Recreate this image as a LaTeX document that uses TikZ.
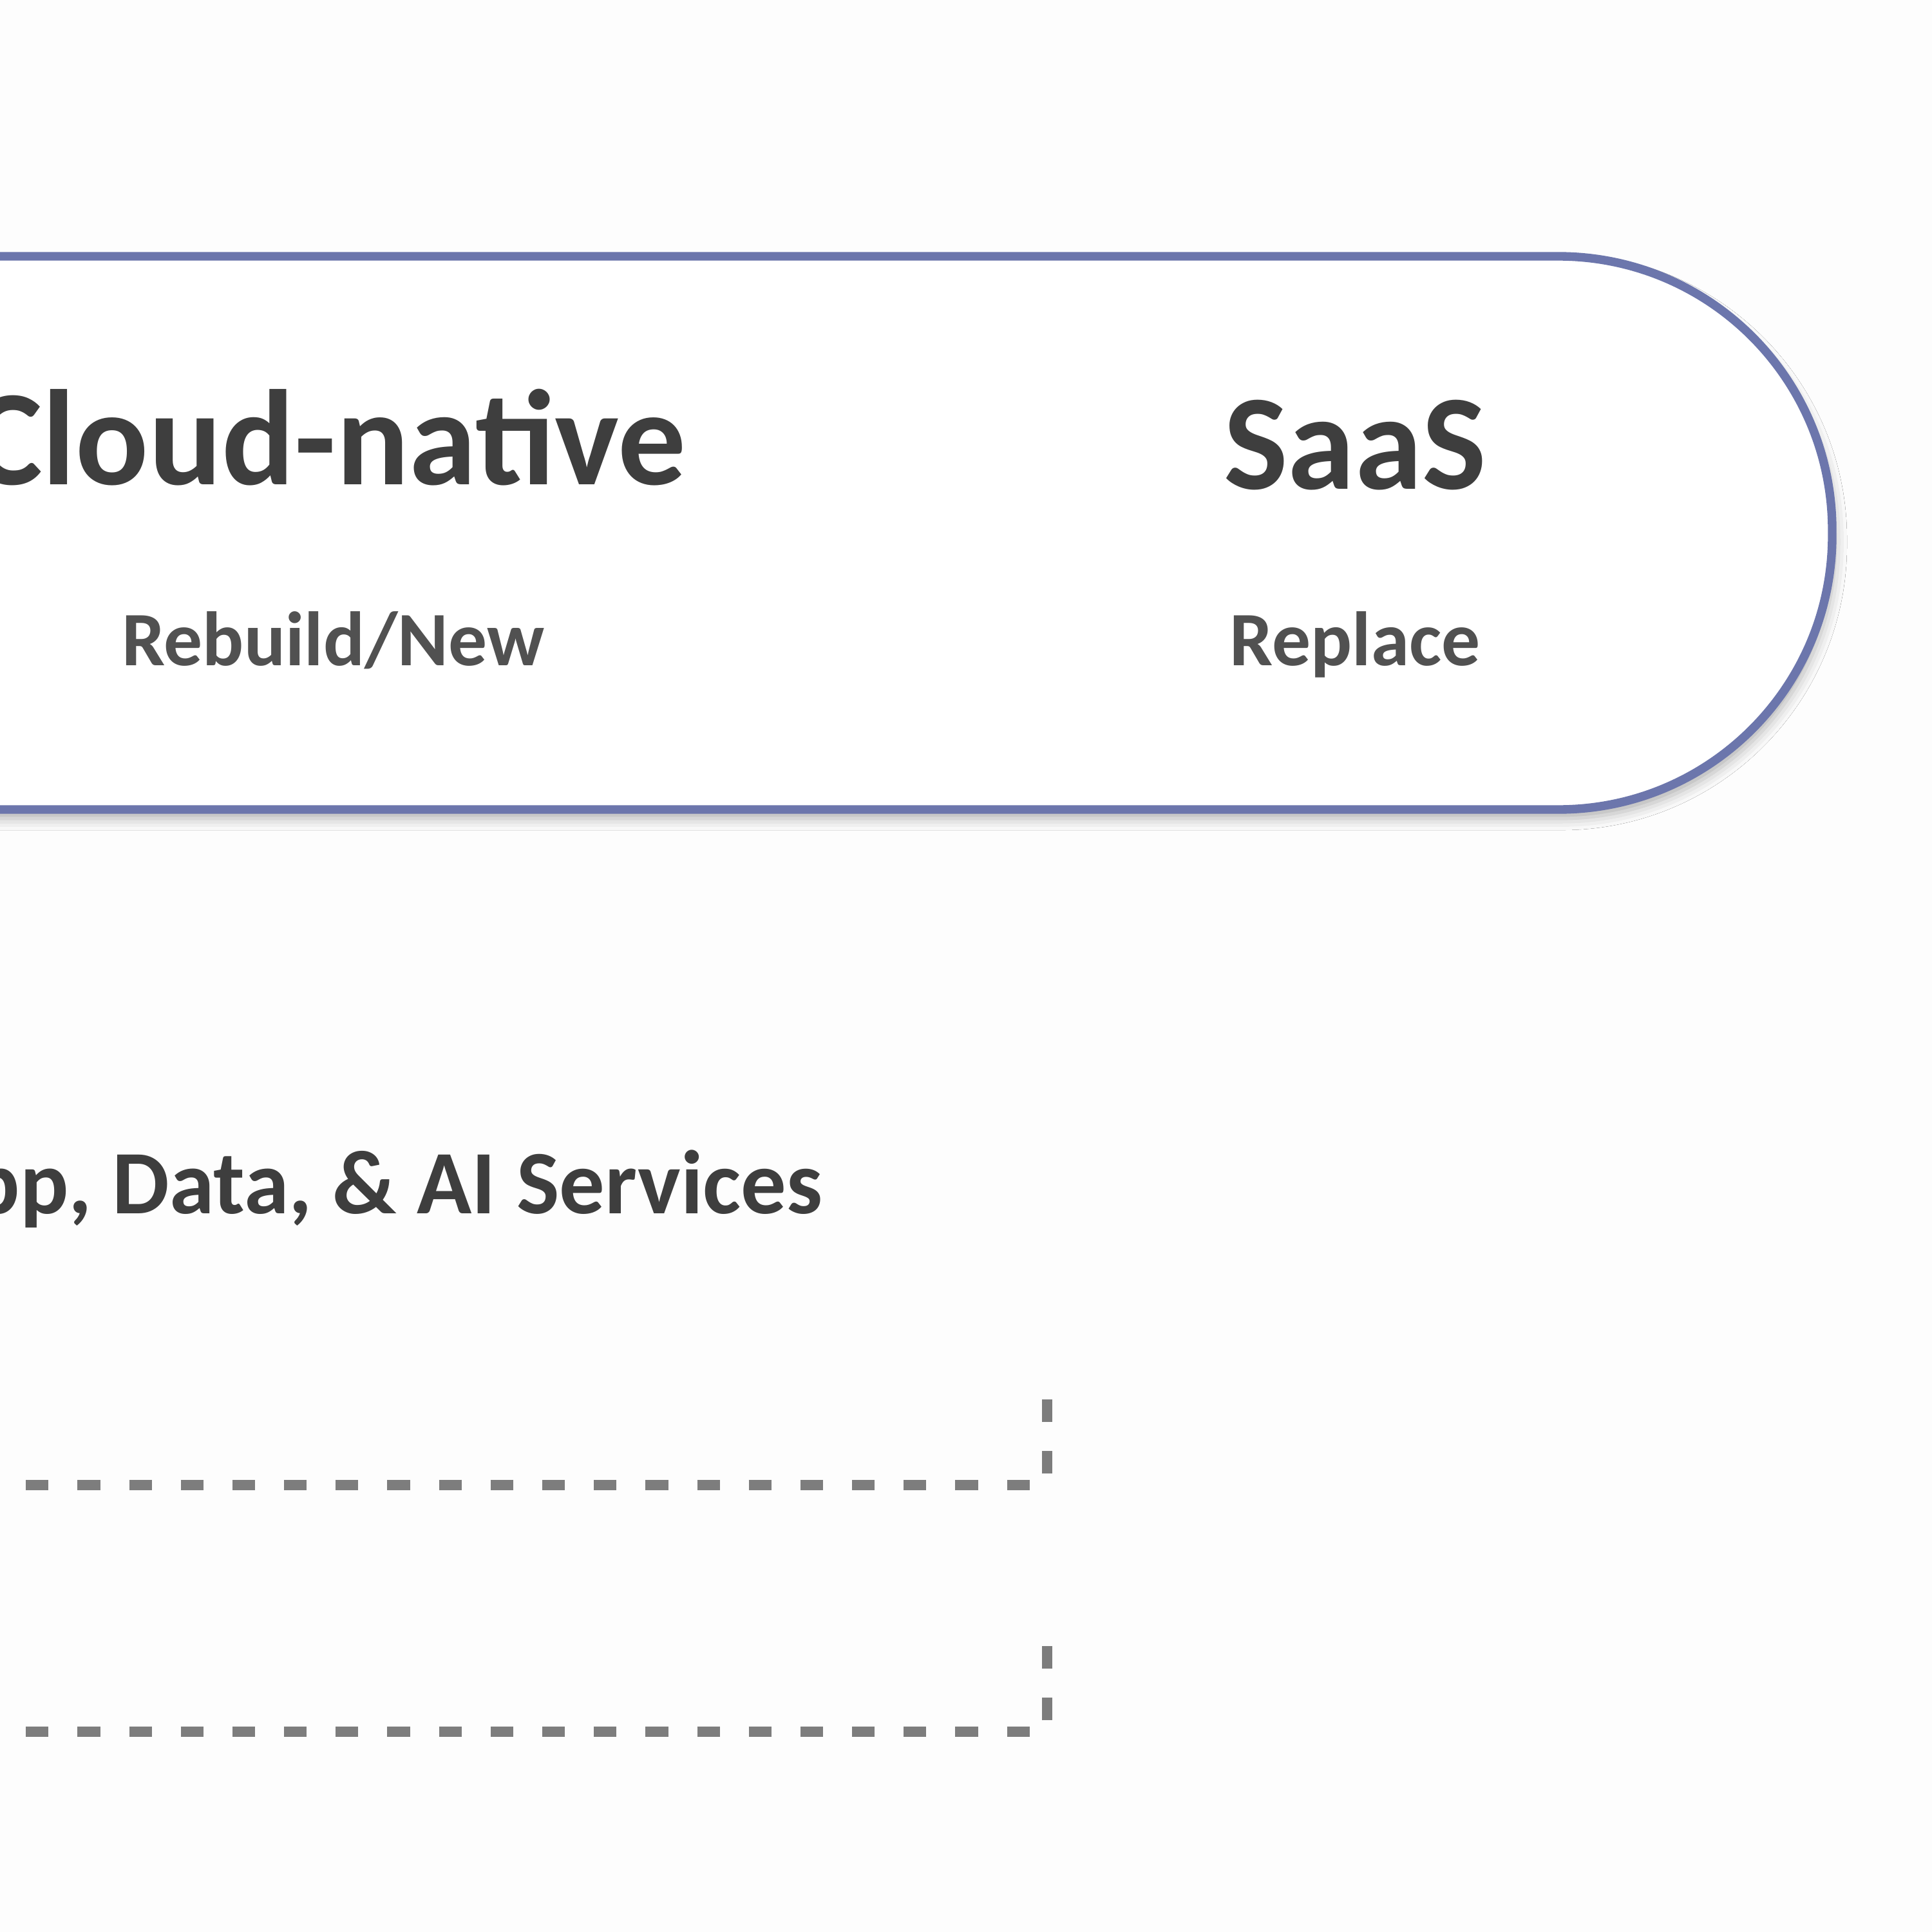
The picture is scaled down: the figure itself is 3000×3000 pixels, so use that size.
\documentclass[tikz,border=0pt]{standalone}
\usepackage{fontspec}
\setmainfont{Carlito}
\usetikzlibrary{shadows.blur}
\definecolor{pillline}{RGB}{108,118,172}
\definecolor{textdark}{RGB}{62,62,62}
\definecolor{dashcol}{RGB}{125,125,125}
\definecolor{bgcol}{RGB}{253,253,253}
\tikzset{
  pillshape/.style={draw=pillline, line width=3.8pt, fill=white,
    rounded corners=4.25cm,
    blur shadow={shadow xshift=0.5mm, shadow yshift=-1.4mm, shadow blur radius=1.8mm, shadow opacity=30}},
  bigtitle/.style={font=\bfseries\fontsize{60}{72}\selectfont, text=textdark, inner sep=0pt},
  subtitle/.style={font=\bfseries\fontsize{34}{41}\selectfont, text=textdark!90, inner sep=0pt},
  grouplabel/.style={font=\bfseries\fontsize{40}{48}\selectfont, text=textdark, inner sep=0pt},
  dashlink/.style={draw=dashcol, line width=4.3pt, dash pattern=on 10pt off 12.8pt}
}
\begin{document}
\begin{tikzpicture}[x=0.01cm, y=-0.01cm]
\fill[bgcol] (0,0) rectangle (3000,3000);
\useasboundingbox (0,0) rectangle (3000,3000);
% pill band (continues beyond the left edge)
\path[pillshape] (-600,398) rectangle (2845,1257);
% labels in the band
\node[bigtitle, anchor=base east] (cn) at (1066,752) {Cloud-native};
\node[subtitle, anchor=base] (rb) at (517,1033) {Rebuild/New};
\node[bigtitle, anchor=base] (saas) at (2104,759) {SaaS};
\node[subtitle, anchor=base] (rp) at (2104,1033) {Replace};
% group label
\node[grouplabel, anchor=base east] (grp) at (1278,1884) {App, Data, \& AI Services};
% dashed connectors
\coordinate (d1s) at (-40,2306);
\coordinate (d1e) at (1626,2128);
\coordinate (d2s) at (-40,2689);
\coordinate (d2e) at (1626,2511);
\draw[dashlink] (d1s) -| (d1e);
\draw[dashlink] (d2s) -| (d2e);
\end{tikzpicture}
\end{document}
